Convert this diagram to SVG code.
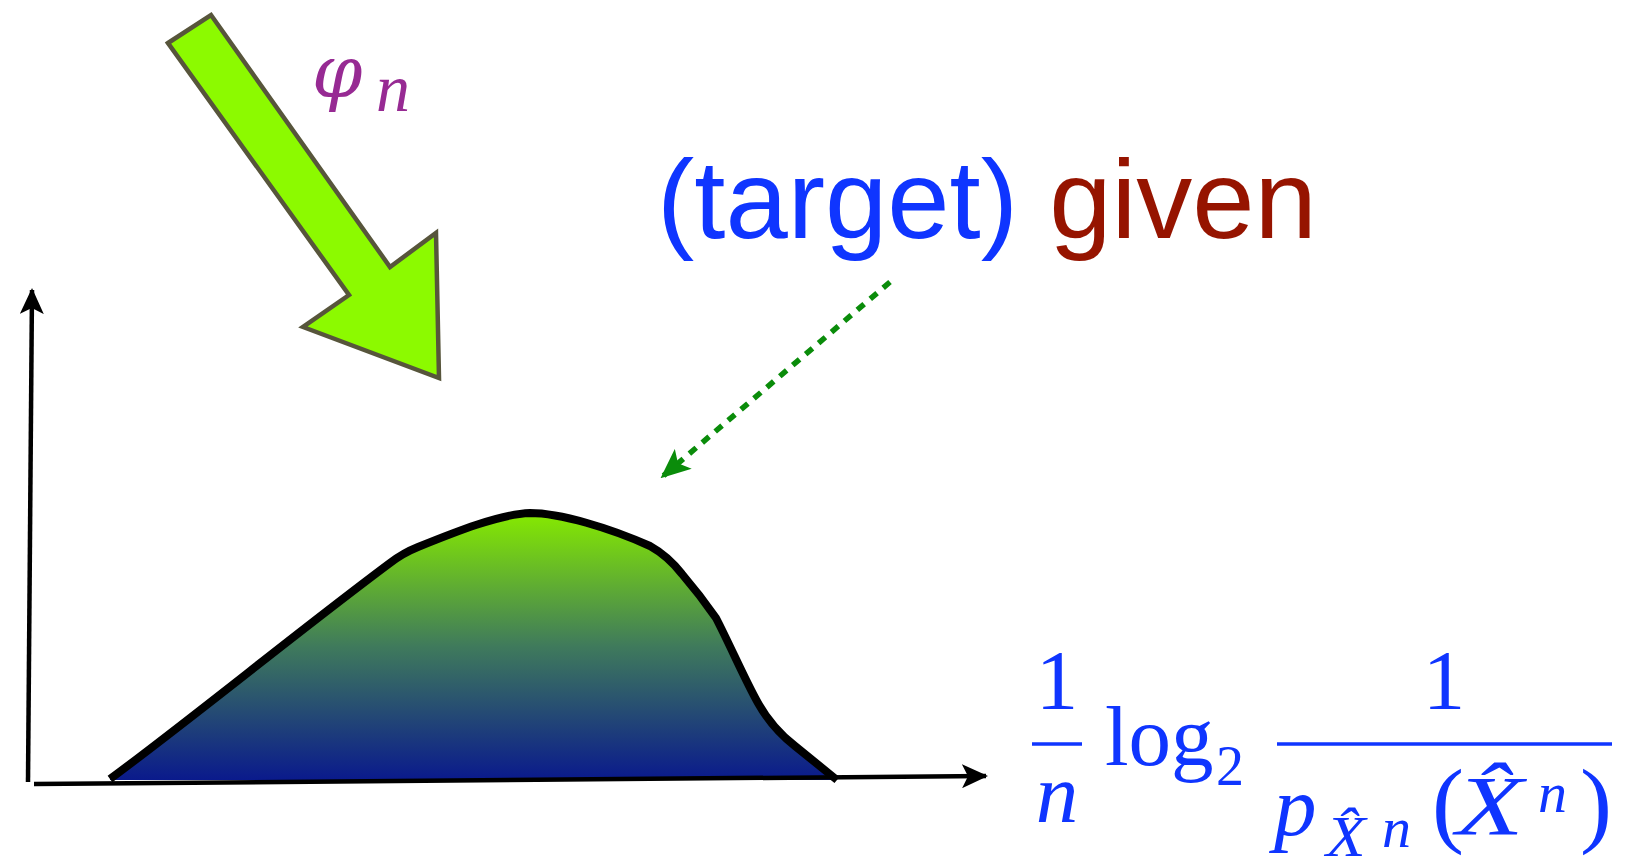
<svg xmlns="http://www.w3.org/2000/svg" width="1638" height="860" viewBox="0 0 1638 860">
  <defs>
    <style>
      .axis { stroke:#000; stroke-width:4.5; fill:none; }
      .sans { font-family:"Liberation Sans", Arial, sans-serif; }
      .math { font-family:"Liberation Serif", "Times New Roman", serif; fill:#0f35ff; }
      .it { font-style:italic; }
      .bar { stroke:#0f35ff; stroke-width:3.5; }
    </style>
    <linearGradient id="fillGrad" x1="0" y1="0" x2="0" y2="1">
      <stop offset="0" stop-color="#86ea00"/>
      <stop offset="0.5" stop-color="#3f7a5c"/>
      <stop offset="1" stop-color="#0a1a8c"/>
    </linearGradient>
    <marker id="axArrow" viewBox="0 0 26 24" refX="24" refY="12" markerWidth="26" markerHeight="24" markerUnits="userSpaceOnUse" orient="auto">
      <path d="M0,0 L26,12 L0,24 L6,12 Z" fill="#000"/>
    </marker>
    <marker id="greenArrow" viewBox="0 0 30 26" refX="28" refY="13" markerWidth="30" markerHeight="26" markerUnits="userSpaceOnUse" orient="auto">
      <path d="M0,0 L30,13 L0,26 L7,13 Z" fill="#0a8c0a"/>
    </marker>
  </defs>

  <g id="curve">
    <path d="M110,779 C190,720 300,630 390,563 Q403,553 418,547 C455,532 500,514 530,513 C560,513 610,528 650,546 Q668,556 682,574 Q700,595 716,618 C730,645 745,680 758,703 Q772,728 795,746 L837,780 L110,780 Z" fill="url(#fillGrad)" stroke="none"/>
    <path d="M110,779 C190,720 300,630 390,563 Q403,553 418,547 C455,532 500,514 530,513 C560,513 610,528 650,546 Q668,556 682,574 Q700,595 716,618 C730,645 745,680 758,703 Q772,728 795,746 L837,780" fill="none" stroke="#000" stroke-width="8" stroke-linejoin="round"/>
  </g>

  <g id="axes">
    <line class="axis" x1="28" y1="782" x2="32" y2="290" marker-end="url(#axArrow)"/>
    <line class="axis" x1="34" y1="784" x2="986" y2="776" marker-end="url(#axArrow)"/>
  </g>

  <g id="phi-arrow">
    <polygon points="168,43 211,15 390,267 436,233 439,378 303,327 349,295" fill="#8cfa00" stroke="#57553b" stroke-width="4.5" stroke-linejoin="miter"/>
    <text x="312" y="97" font-family="DejaVu Serif, serif" font-style="italic" font-size="72" fill="#972a93">φ</text>
    <text x="376" y="111" font-family="Liberation Serif, serif" font-style="italic" font-size="68" fill="#972a93">n</text>
  </g>

  <g id="label-target">
    <text class="sans" x="657" y="238" font-size="112"><tspan fill="#0f35ff">(target)</tspan> <tspan fill="#961400">given</tspan></text>
  </g>

  <g id="connectors">
    <line x1="890" y1="282" x2="662" y2="477" stroke="#0a8c0a" stroke-width="5.5" stroke-dasharray="9,8" marker-end="url(#greenArrow)"/>
  </g>

  <g id="formula">
    <text class="math" x="1057" y="709" font-size="85" text-anchor="middle">1</text>
    <line class="bar" x1="1032" y1="744" x2="1082" y2="744"/>
    <text class="math it" x="1057" y="822" font-size="85" text-anchor="middle">n</text>
    <text class="math" x="1105" y="765" font-size="85">log</text>
    <text class="math" x="1216" y="785" font-size="56">2</text>
    <text class="math" x="1444" y="709" font-size="85" text-anchor="middle">1</text>
    <line class="bar" x1="1277" y1="744" x2="1612" y2="744"/>
    <text class="math it" x="1274" y="835" font-size="85">p</text>
    <text class="math it" font-size="58" transform="translate(1326,856) scale(1.12,1)">X̂</text>
    <text class="math it" x="1382" y="847" font-size="58">n</text>
    <text class="math" x="1432" y="835" font-size="96">(</text>
    <text class="math it" font-size="85" transform="translate(1456,835) scale(1.3,1)">X̂</text>
    <text class="math it" x="1538" y="812" font-size="58">n</text>
    <text class="math" x="1580" y="835" font-size="96">)</text>
  </g>
</svg>
